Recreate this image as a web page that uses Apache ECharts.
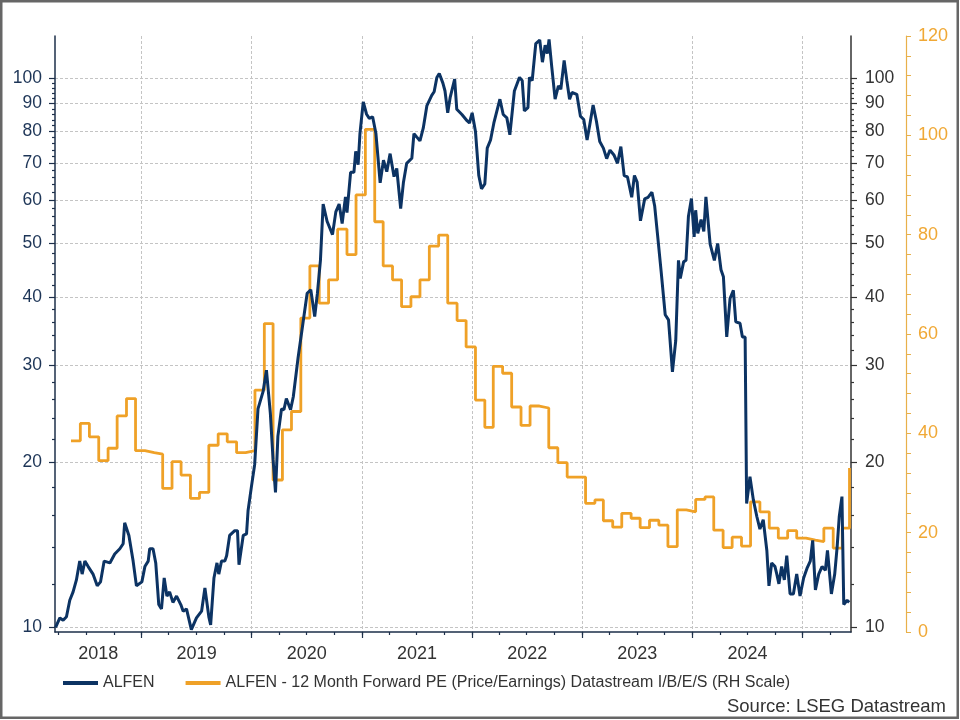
<!DOCTYPE html>
<html>
<head>
<meta charset="utf-8">
<script src="https://cdn.jsdelivr.net/npm/echarts@6/dist/echarts.min.js"></script>
<style>
  html, body { margin: 0; padding: 0; background: #fff; }
  #chart { width: 960px; height: 720px; }
</style>
</head>
<body>
<div id="chart"></div>
<script>
// ALFEN 股价（左轴，对数刻度）
const alfenDates = [
  '2018-03-22','2018-04-05','2018-04-16','2018-04-27','2018-05-08','2018-05-19','2018-05-30','2018-06-10','2018-06-18','2018-06-27',
  '2018-07-08','2018-07-24','2018-08-07','2018-08-18','2018-08-30','2018-09-18','2018-10-04','2018-10-21','2018-11-01','2018-11-06',
  '2018-11-20','2018-12-04','2018-12-15','2019-01-02','2019-01-12','2019-01-23','2019-01-28','2019-02-08','2019-02-17','2019-02-27',
  '2019-03-08','2019-03-17','2019-03-26','2019-04-04','2019-04-15','2019-04-27','2019-05-11','2019-05-19','2019-05-30','2019-06-15',
  '2019-07-02','2019-07-19','2019-07-30','2019-08-12','2019-08-18','2019-08-29','2019-09-08','2019-09-14','2019-09-23','2019-10-04',
  '2019-10-10','2019-10-20','2019-11-06','2019-11-15','2019-11-20','2019-12-04','2019-12-15','2019-12-20','2019-12-31','2020-01-11',
  '2020-01-22','2020-01-28','2020-02-08','2020-02-19','2020-03-03','2020-03-12','2020-03-20','2020-03-28','2020-04-09','2020-04-17',
  '2020-04-25','2020-05-09','2020-05-18','2020-06-03','2020-06-19','2020-07-03','2020-07-15','2020-07-28','2020-08-06','2020-08-16',
  '2020-08-25','2020-09-07','2020-09-25','2020-10-06','2020-10-17','2020-10-27','2020-11-07','2020-11-12','2020-11-24','2020-12-05',
  '2020-12-11','2020-12-19','2020-12-25','2021-01-05','2021-01-16','2021-01-25','2021-02-05','2021-02-16','2021-03-02','2021-03-13',
  '2021-03-24','2021-04-04','2021-04-17','2021-04-26','2021-05-09','2021-05-18','2021-05-29','2021-06-15','2021-06-22','2021-07-01',
  '2021-07-12','2021-07-23','2021-08-04','2021-08-20','2021-08-28','2021-09-06','2021-09-14','2021-09-26','2021-10-03','2021-10-12',
  '2021-10-20','2021-11-04','2021-11-11','2021-11-28','2021-12-15','2021-12-23','2022-01-01','2022-01-12','2022-01-23','2022-02-01',
  '2022-02-12','2022-02-20','2022-03-03','2022-03-14','2022-04-03','2022-04-14','2022-04-26','2022-05-06','2022-05-21','2022-06-07',
  '2022-06-16','2022-06-23','2022-07-05','2022-07-10','2022-07-19','2022-07-31','2022-08-13','2022-08-22','2022-08-31','2022-09-07',
  '2022-09-13','2022-09-22','2022-10-03','2022-10-14','2022-10-22','2022-11-02','2022-11-11','2022-11-20','2022-11-28','2022-12-14',
  '2022-12-26','2023-01-06','2023-01-17','2023-01-26','2023-02-06','2023-02-17','2023-02-28','2023-03-12','2023-03-23','2023-04-03',
  '2023-04-16','2023-04-28','2023-05-09','2023-05-20','2023-05-31','2023-06-14','2023-06-23','2023-07-02','2023-07-13','2023-07-27',
  '2023-08-07','2023-08-20','2023-08-29','2023-09-07','2023-09-20','2023-10-03','2023-10-14','2023-10-27','2023-11-07','2023-11-16',
  '2023-11-22','2023-12-03','2023-12-11','2023-12-19','2023-12-29','2024-01-07','2024-01-12','2024-01-19','2024-01-30','2024-02-08',
  '2024-02-15','2024-02-29','2024-03-14','2024-03-25','2024-04-05','2024-04-13','2024-04-24','2024-05-05','2024-05-16','2024-05-24',
  '2024-06-07','2024-06-15','2024-06-24','2024-06-29','2024-07-10','2024-07-21','2024-08-02','2024-08-12','2024-08-23','2024-09-04',
  '2024-09-11','2024-09-20','2024-10-01','2024-10-07','2024-10-14','2024-10-23','2024-11-01','2024-11-09','2024-11-20','2024-12-01',
  '2024-12-12','2024-12-23','2025-01-04','2025-01-15','2025-01-26','2025-02-03','2025-02-12','2025-02-23','2025-03-06','2025-03-17',
  '2025-03-24','2025-04-06','2025-04-17','2025-04-25','2025-05-02','2025-05-11','2025-05-17','2025-05-28','2025-06-04'
];
const alfenPrice = [
  10.0, 10.4, 10.3, 10.45, 11.2, 11.6, 12.2, 13.2, 12.5, 13.2,
  12.9, 12.5, 11.9, 12.1, 13.2, 13.1, 13.6, 13.9, 14.2, 15.5,
  14.7, 13.2, 11.9, 12.1, 12.9, 13.2, 13.9, 13.9, 13.1, 11.0,
  10.8, 12.3, 11.4, 11.6, 11.1, 11.4, 11.0, 10.7, 10.8, 9.9,
  10.4, 10.7, 11.8, 10.45, 10.1, 12.3, 13.1, 12.5, 13.2, 13.2,
  13.5, 14.7, 15.0, 15.0, 13.0, 14.7, 14.8, 16.3, 18.0, 19.8,
  25.0, 24.9, 26.9, 29.4, 24.5, 20.2, 17.6, 22.3, 25.0, 24.9,
  26.1, 24.9, 26.3, 31.0, 35.8, 40.6, 41.2, 36.8, 40.6, 46.6,
  59.0, 54.9, 51.9, 57.1, 59.0, 54.4, 60.8, 56.9, 67.4, 67.4,
  73.6, 69.6, 79.3, 90.6, 86.0, 84.5, 85.1, 79.3, 64.5, 70.9,
  67.6, 72.9, 66.2, 68.5, 57.9, 64.5, 70.0, 71.5, 79.3, 78.2,
  76.9, 81.2, 89.2, 93.1, 94.5, 100.3, 102.0, 98.0, 94.8, 86.5,
  92.2, 99.7, 87.8, 85.9, 83.7, 82.9, 86.5, 80.0, 66.5, 62.9,
  64.2, 74.6, 77.2, 82.9, 91.6, 85.9, 84.7, 78.9, 94.8, 100.4,
  99.0, 87.2, 88.4, 100.4, 99.0, 115.7, 117.4, 107.0, 114.9, 110.9,
  117.7, 104.8, 91.6, 96.9, 95.5, 107.8, 99.0, 91.6, 94.2, 93.5,
  85.3, 84.1, 77.2, 82.3, 89.4, 83.5, 76.7, 74.6, 71.4, 74.0,
  72.5, 70.0, 75.1, 66.5, 66.1, 60.7, 66.5, 64.7, 55.0, 60.3,
  60.7, 62.0, 58.6, 52.3, 44.2, 37.1, 36.3, 29.2, 33.3, 46.6,
  43.2, 46.3, 46.6, 56.0, 60.4, 51.4, 57.5, 52.2, 55.3, 52.6,
  60.8, 49.9, 46.6, 50.0, 44.8, 43.5, 33.8, 39.7, 41.1, 36.0,
  35.8, 33.8, 33.8, 16.8, 18.8, 17.1, 15.9, 15.1, 15.7, 13.8,
  11.9, 13.1, 12.9, 12.5, 12.0, 12.9, 12.2, 13.5, 11.5, 11.5,
  12.5, 11.4, 12.3, 12.8, 13.2, 14.4, 11.7, 12.5, 12.9, 12.7,
  13.8, 11.5, 12.5, 14.0, 15.9, 17.3, 11.0, 11.2, 11.1
];

// 12 个月远期市盈率（右侧外轴，线性，月度阶梯）
const peDates = [
  '2018-05-12','2018-06-12','2018-07-12','2018-08-12','2018-09-12','2018-10-12','2018-11-12','2018-12-12',
  '2019-01-12','2019-02-12','2019-03-12','2019-04-12','2019-05-12','2019-06-12','2019-07-12','2019-08-12','2019-09-12','2019-10-12','2019-11-12','2019-12-12',
  '2020-01-12','2020-02-12','2020-03-12','2020-04-12','2020-05-12','2020-06-12','2020-07-12','2020-08-12','2020-09-12','2020-10-12','2020-11-12','2020-12-12',
  '2021-01-12','2021-02-12','2021-03-12','2021-04-12','2021-05-12','2021-06-12','2021-07-12','2021-08-12','2021-09-12','2021-10-12','2021-11-12','2021-12-12',
  '2022-01-12','2022-02-12','2022-03-12','2022-04-12','2022-05-12','2022-06-12','2022-07-12','2022-08-12','2022-09-12','2022-10-12','2022-11-12','2022-12-12',
  '2023-01-12','2023-02-12','2023-03-12','2023-04-12','2023-05-12','2023-06-12','2023-07-12','2023-08-12','2023-09-12','2023-10-12','2023-11-12','2023-12-12',
  '2024-01-12','2024-02-12','2024-03-12','2024-04-12','2024-05-12','2024-06-12','2024-07-12','2024-08-12','2024-09-12','2024-10-12','2024-11-12','2024-12-12',
  '2025-01-12','2025-02-12','2025-03-12','2025-04-12','2025-05-12','2025-06-05'
];
const peValues = [
  38.5, 42.0, 39.3, 34.5, 37.0, 43.5, 47.0, 36.5,
  36.1, 35.8, 28.9, 34.3, 31.6, 26.9, 28.1, 37.6, 39.9, 38.3, 36.1, 36.5,
  48.7, 62.1, 30.6, 40.7, 44.4, 63.2, 73.7, 66.2, 70.9, 81.1, 76.0, 88.0,
  101.2, 82.6, 73.7, 70.9, 65.5, 67.5, 70.9, 77.7, 79.9, 66.2, 62.7, 57.4,
  46.7, 41.2, 53.5, 52.1, 45.3, 41.6, 45.5, 45.1, 37.1, 34.1, 31.2, 31.2,
  25.9, 26.6, 22.4, 21.1, 23.9, 22.9, 21.0, 22.5, 21.5, 17.2, 24.6, 24.2,
  26.7, 27.2, 20.5, 17.0, 19.1, 17.3, 26.2, 24.2, 20.9, 18.9, 20.4, 18.9,
  18.5, 18.2, 20.9, 16.9, 20.9, 33.0
];

// 刻度
const logLabels = [10, 20, 30, 40, 50, 60, 70, 80, 90, 100];
const logMinor = [12, 14, 16, 18, 22, 24, 26, 28, 32, 34, 36, 38, 42, 44, 46, 48, 52, 54, 56, 58,
                  62, 64, 66, 68, 72, 74, 76, 78, 82, 84, 86, 88, 92, 94, 96, 98];
const yearTicks = [2019, 2020, 2021, 2022, 2023, 2024, 2025];
const yearLabels = [2018, 2019, 2020, 2021, 2022, 2023, 2024];

const X_MIN = '2018-03-20', X_MAX = '2025-06-10';
const LOG_MIN = 9.805, LOG_MAX = 119.4;

const NAVY = '#0c3363', ORANGE = '#efa127';
const FONT = '"Liberation Sans", Arial, sans-serif';

const ts = s => { const p = s.split('-').map(Number); return +new Date(p[0], p[1] - 1, p[2]); };
const lg = v => Math.log10(v);

const xMin = ts(X_MIN), xMax = ts(X_MAX);
const yearStart = yearTicks.map(y => +new Date(y, 0, 1));
const quarterTicks = [];
for (let y = 2018; y <= 2025; y++) for (let m = 0; m < 12; m += 3) quarterTicks.push(+new Date(y, m, 1));
// 年份标签放在该年可见区间的中点
const yearLabelPos = yearLabels.map(y => {
  const a = Math.max(+new Date(y, 0, 1), xMin), b = Math.min(+new Date(y + 1, 0, 1), xMax);
  return (a + b) / 2;
});

const gridLine = { show: true, lineStyle: { color: '#c4c4c4', width: 1, type: [3, 2] } };

function logAxis(pos, labelColor, lineColor, margin) {
  return [
    { type: 'value', position: pos, min: lg(LOG_MIN), max: lg(LOG_MAX),
      axisLine: { show: true, onZero: false, lineStyle: { color: lineColor, width: 1.5 } },
      axisTick: { show: true, customValues: logLabels.map(lg), length: 6, lineStyle: { color: lineColor, width: 1.2 } },
      axisLabel: { customValues: logLabels.map(lg), formatter: v => String(Math.round(Math.pow(10, v))),
                   color: labelColor, fontSize: 17.5, fontFamily: FONT, margin: margin },
      splitLine: pos === 'left' ? gridLine : { show: false } },
    // 次刻度：同位置的第二根轴，只画短刻度
    { type: 'value', position: pos, offset: 0.01, min: lg(LOG_MIN), max: lg(LOG_MAX),
      axisLine: { show: false, onZero: false },
      axisTick: { show: true, customValues: logMinor.map(lg), length: 3, lineStyle: { color: lineColor, width: 1.2 } },
      axisLabel: { show: false }, splitLine: { show: false } }
  ];
}

const chart = echarts.init(document.getElementById('chart'));
chart.setOption({
  animation: false,
  backgroundColor: '#fff',
  textStyle: { fontFamily: FONT },
  grid: { left: 55, top: 36, width: 796, height: 596 },
  legend: {
    left: 58, top: 670, itemWidth: 35, itemHeight: 4, itemGap: 31, icon: 'rect',
    textStyle: { color: '#333', fontSize: 16, fontFamily: FONT },
    data: ['ALFEN', 'ALFEN - 12 Month Forward PE (Price/Earnings) Datastream I/B/E/S (RH Scale)']
  },
  xAxis: [
    { type: 'value', position: 'bottom', min: xMin, max: xMax,
      axisLine: { show: true, onZero: false, lineStyle: { color: '#1d2f4a', width: 1.5 } },
      axisTick: { show: true, customValues: yearStart, length: 6, lineStyle: { color: '#1d2f4a', width: 1.2 } },
      axisLabel: { customValues: yearLabelPos, formatter: v => String(new Date(v).getFullYear()),
                   color: '#333', fontSize: 18, fontFamily: FONT, margin: 13, hideOverlap: false },
      splitLine: gridLine },
    { type: 'value', position: 'bottom', offset: 0.01, min: xMin, max: xMax,
      axisLine: { show: false, onZero: false },
      axisTick: { show: true, customValues: quarterTicks, length: 3, lineStyle: { color: '#1d2f4a', width: 1.2 } },
      axisLabel: { show: false }, splitLine: { show: false } }
  ],
  yAxis: [
    ...logAxis('left', '#1d3557', '#1d2f4a', 13),
    ...logAxis('right', '#333', '#333', 14),
    { type: 'value', position: 'right', offset: 55, min: 0, max: 120, interval: 20,
      axisLine: { show: true, onZero: false, lineStyle: { color: '#e8b04a', width: 1.2 } },
      axisTick: { show: true, length: 5, lineStyle: { color: '#e8b04a' } },
      minorTick: { show: true, splitNumber: 5, length: 5, lineStyle: { color: '#e8b04a' } },
      axisLabel: { color: '#f0a835', fontSize: 18, fontFamily: FONT, margin: 12 },
      splitLine: { show: false } }
  ],
  graphic: [
    { type: 'text', right: 14, top: 697, silent: true,
      style: { text: 'Source: LSEG Datastream', fill: '#333', fontSize: 18.5, fontFamily: FONT } },
    { type: 'rect', silent: true, shape: { x: 1.25, y: 1.25, width: 956.5, height: 716.5 },
      style: { fill: 'none', stroke: '#666', lineWidth: 2.5 } }
  ],
  series: [
    { name: 'ALFEN - 12 Month Forward PE (Price/Earnings) Datastream I/B/E/S (RH Scale)', type: 'line', step: 'end',
      xAxisIndex: 0, yAxisIndex: 4, showSymbol: false, z: 2,
      data: peDates.map((d, i) => [ts(d), peValues[i]]),
      itemStyle: { color: ORANGE }, lineStyle: { color: ORANGE, width: 2.8 } },
    { name: 'ALFEN', type: 'line', xAxisIndex: 0, yAxisIndex: 0, showSymbol: false, z: 3,
      data: alfenDates.map((d, i) => [ts(d), lg(alfenPrice[i])]),
      itemStyle: { color: NAVY }, lineStyle: { color: NAVY, width: 3 } }
  ]
});
</script>
</body>
</html>
